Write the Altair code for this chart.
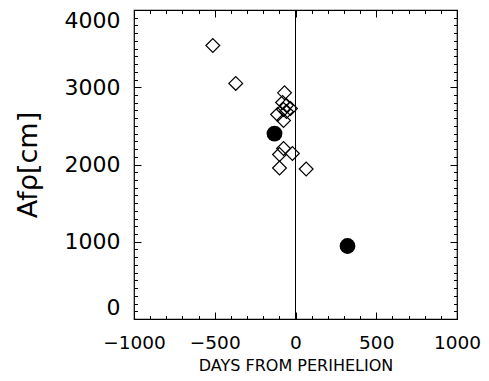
import altair as alt
import pandas as pd

# Open diamonds: days from perihelion, Afrho [cm]
days_open = [-512, -370, -68, -80, -56, -31, -74, -56, -111, -74, -74, -99, -19, -99, 66]
afrho_open = [3540, 3050, 2928, 2803, 2764, 2725, 2712, 2686, 2647, 2570, 2207, 2129, 2142, 1955, 1942]

# Filled circles
days_fill = [-130, 322]
afrho_fill = [2400, 945]

x_major = [-1000, -500, 0, 500, 1000]
y_major = [0, 1000, 2000, 3000, 4000]
x_minor = list(range(-1000, 1001, 100))
y_minor = list(range(0, 4001, 100))

W, H = 323, 309
FONT = "DejaVu Sans"

df_open = pd.DataFrame({"days": days_open, "afrho": afrho_open})
df_fill = pd.DataFrame({"days": days_fill, "afrho": afrho_fill})


def xs():
    return alt.Scale(domain=[-1000, 1000], nice=False, zero=False)


def ys():
    return alt.Scale(domain=[0, 4000], nice=False, zero=False)


main_x = alt.Axis(values=x_major, ticks=False, domain=False, grid=False, format="d",
                  labelFontSize=18.5, labelPadding=14, labelFlush=False,
                  labelColor="black", labelFont=FONT,
                  title="DAYS FROM PERIHELION", titleFontSize=16,
                  titleFontWeight="normal", titleFont=FONT, titleColor="black",
                  titlePadding=6)
main_y = alt.Axis(values=y_major, ticks=False, domain=False, grid=False, format="d",
                  labelFontSize=22, labelPadding=14, labelFlush=True,
                  labelColor="black", labelFont=FONT,
                  title="Afρ[cm]", titleFontSize=27, titleFontWeight="normal",
                  titleFont=FONT, titleColor="black", titlePadding=22)


def tick_axis(orient, offset, values, major_step):
    return alt.Axis(orient=orient, offset=offset, values=values, labels=False,
                    domain=False, grid=False, ticks=True,
                    tickSize={"condition": {"test": f"datum.value % {major_step} === 0", "value": 7},
                              "value": 3.5},
                    tickColor="black", tickWidth=1, title=None)


open_pts = alt.Chart(df_open).mark_point(
    shape="diamond", filled=False, size=190, stroke="black", strokeWidth=1.2, opacity=1
).encode(
    x=alt.X("days:Q", scale=xs(), axis=main_x),
    y=alt.Y("afrho:Q", scale=ys(), axis=main_y),
)

fill_pts = alt.Chart(df_fill).mark_point(
    shape="circle", filled=True, size=250, color="black", opacity=1
).encode(
    x=alt.X("days:Q", scale=xs(), axis=None),
    y=alt.Y("afrho:Q", scale=ys(), axis=None),
)

vline = alt.Chart(pd.DataFrame({"z": [0]})).mark_rule(color="black", strokeWidth=1).encode(
    x=alt.X("z:Q", scale=xs(), axis=None)
)

# inward ticks on bottom & left edges
ticks_bl = alt.Chart(df_fill).mark_point(opacity=0).encode(
    x=alt.X("days:Q", scale=xs(), axis=tick_axis("top", -H, x_minor, 500)),
    y=alt.Y("afrho:Q", scale=ys(), axis=tick_axis("right", -W, y_minor, 1000)),
)
# inward ticks on top & right edges
ticks_tr = alt.Chart(df_fill).mark_point(opacity=0).encode(
    x=alt.X("days:Q", scale=xs(), axis=tick_axis("bottom", -H, x_minor, 500)),
    y=alt.Y("afrho:Q", scale=ys(), axis=tick_axis("left", -W, y_minor, 1000)),
)

chart = alt.layer(open_pts, fill_pts, vline, ticks_bl, ticks_tr).resolve_scale(
    x="independent", y="independent"
).resolve_axis(
    x="independent", y="independent"
).properties(
    width=W, height=H,
    autosize=alt.AutoSizeParams(type="none"),
    padding={"left": 126, "top": 2, "right": 24, "bottom": 62},
    background="white",
).configure_view(stroke="black", strokeWidth=1.2)

chart.save("out.html", embed_options={"renderer": "svg", "actions": False})
